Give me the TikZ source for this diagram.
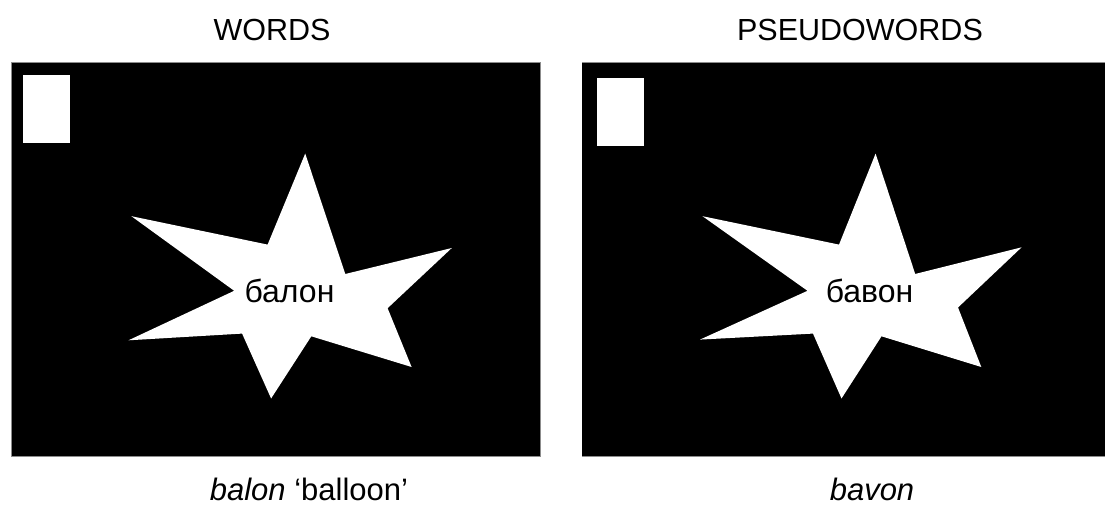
\documentclass[tikz,border=0pt]{standalone}
\usepackage{fontspec}
\setmainfont{Liberation Sans}
\tikzset{
  panel/.style={fill=black, draw=black!45, line width=0.8pt},
  marker/.style={fill=white},
  starshape/.style={fill=white},
  heading/.style={font=\fontsize{30.5}{36}\selectfont, inner sep=0pt, anchor=base},
  caption/.style={font=\fontsize{31}{36}\selectfont, inner sep=0pt, anchor=base},
  stimulus/.style={font=\fontsize{32}{38}\selectfont, inner sep=0pt, anchor=base}
}
\begin{document}
\begin{tikzpicture}[x=1pt, y=-1pt]
\useasboundingbox (0,0) rectangle (1105,510);
% left panel
\path[panel] (11,62.5) rectangle (540,456);
\path[marker] (23,75) rectangle (70,143);
\path[starshape] (305.2,153.6) -- (345.3,274) -- (451.8,248) -- (387.6,308.2)
  -- (411.6,367) -- (311.3,336.3) -- (271.1,398.5) -- (242.1,333.6)
  -- (128.5,340.3) -- (234.2,290.8) -- (131.4,216.2) -- (267.6,244.6) -- cycle;
% right panel
\path[panel] (1106,62.5) -- (582,62.5) -- (582,456) -- (1106,456);
\path[fill=black] (582.4,62.9) rectangle (1105,455.6);
\path[marker] (597,78) rectangle (644,146);
\path[starshape] (875.6,153.6) -- (915.2,274) -- (1021.6,247.3) -- (958,307.5)
  -- (981.3,367) -- (881.5,336.3) -- (841.5,398.5) -- (813,333.6)
  -- (700,339.6) -- (807.5,290.8) -- (702.5,216.2) -- (839,244.6) -- cycle;
% texts
\node[heading] (h1) at (272,40.5) {WORDS};
\node[heading] (h2) at (860,40.5) {PSEUDOWORDS};
\node[stimulus] (s1) at (289.5,302.5) {балон};
\node[stimulus] (s2) at (869.5,302.5) {бавон};
\node[caption] (c1) at (309,500) {\textit{balon} ‘balloon’};
\node[caption] (c2) at (872,500) {\textit{bavon}};
\end{tikzpicture}
\end{document}
